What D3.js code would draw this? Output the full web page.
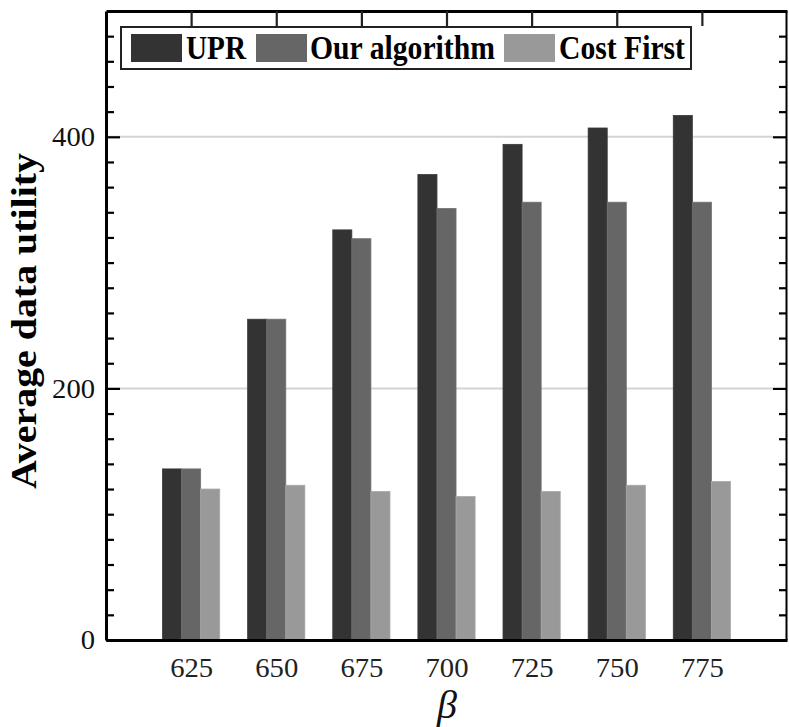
<!DOCTYPE html>
<html>
<head>
<meta charset="utf-8">
<script src="https://cdn.jsdelivr.net/npm/d3@7"></script>
<style>
  html, body { margin: 0; padding: 0; background: #fff; }
  svg { display: block; }
  svg text { font-family: "Liberation Serif", "Times New Roman", Times, serif; }
</style>
</head>
<body>
<svg id="chart" width="789" height="727"></svg>
<script>
// ---------- data ----------
const categories = [625, 650, 675, 700, 725, 750, 775];
const seriesNames = ["UPR", "Our algorithm", "Cost First"];
const uprValues = [136, 255, 326, 370, 394, 407, 417];
const ourValues = [136, 255, 319, 343, 348, 348, 348];
const costFirstValues = [120, 123, 118, 114, 118, 123, 126];
const yMajorTicks = [0, 200, 400];
const yMinorStep = 20;
const xLabel = "β";
const yLabel = "Average data utility";

(function () {
// ---------- setup ----------
const W = 789, H = 727;
const pLeft = 106, pRight = 786, pTop = 11, pBottom = 640;
const colors = {"UPR": "#333333", "Our algorithm": "#666666", "Cost First": "#999999"};
const serif = "\"Liberation Serif\", \"Times New Roman\", Times, serif";

const svg = d3.select("#chart");
svg.append("rect").attr("width", W).attr("height", H).attr("fill", "#fff");

const x = d3.scaleLinear().domain([600, 800]).range([pLeft, pRight + 1]);
const y = d3.scaleLinear().domain([0, 500]).range([pBottom, pTop]);
const sub = d3.scaleBand().domain(seriesNames).range([-8.4, 8.4]);

const seriesData = seriesNames.map((name, i) => ({
  name,
  values: [uprValues, ourValues, costFirstValues][i]
}));

// gridlines
svg.append("g").selectAll("line")
  .data(yMajorTicks.filter(d => d > 0))
  .join("line")
  .attr("x1", pLeft).attr("x2", pRight - 13)
  .attr("y1", d => y(d)).attr("y2", d => y(d))
  .attr("stroke", "#d4d4d4").attr("stroke-width", 2);

// bars
const gBars = svg.append("g");
seriesData.forEach(s => {
  gBars.append("g").selectAll("rect")
    .data(s.values.map((v, i) => ({c: categories[i], v})))
    .join("rect")
    .attr("x", d => x(d.c + sub(s.name)))
    .attr("width", d => x(d.c + sub(s.name) + sub.bandwidth()) - x(d.c + sub(s.name)))
    .attr("y", d => y(d.v))
    .attr("height", d => y(0) - y(d.v))
    .attr("fill", colors[s.name])
    .attr("stroke", d3.color(colors[s.name]).brighter(0.25))
    .attr("stroke-width", 0.8);
});

const minorTicks = d3.range(0, 500, yMinorStep);
const isMajor = d => yMajorTicks.includes(d);

// left axis
const gLeft = svg.append("g").attr("transform", `translate(${pLeft},0)`)
  .call(d3.axisLeft(y).tickValues(minorTicks).tickSizeInner(-8).tickSizeOuter(0)
    .tickPadding(11).tickFormat(d => isMajor(d) ? d : ""));
gLeft.attr("font-family", null);
gLeft.selectAll(".tick line").attr("x2", d => isMajor(d) ? 14 : 8).attr("stroke-width", 2.2).attr("stroke", "#000");
gLeft.select(".domain").attr("stroke-width", 3).attr("stroke", "#000");
gLeft.selectAll(".tick text").style("font-family", serif).attr("font-size", 27).attr("fill", "#111")
  .filter(d => isMajor(d))
  .attr("textLength", d => String(d).length * 14.3).attr("lengthAdjust", "spacingAndGlyphs");

// right axis
const gRight = svg.append("g").attr("transform", `translate(${pRight},0)`)
  .call(d3.axisRight(y).tickValues(minorTicks).tickSizeInner(-7).tickSizeOuter(0).tickFormat(""));
gRight.selectAll(".tick line").attr("x2", d => isMajor(d) ? -13 : -7).attr("stroke-width", 2.2).attr("stroke", "#000");
gRight.select(".domain").attr("stroke-width", 2).attr("stroke", "#000");

// top axis
const gTop = svg.append("g").attr("transform", `translate(0,${pTop})`)
  .call(d3.axisTop(x).tickValues(categories).tickSizeInner(-15).tickSizeOuter(0).tickFormat(""));
gTop.selectAll(".tick line").attr("stroke-width", 2.2).attr("stroke", "#222");
gTop.select(".domain").attr("stroke-width", 3).attr("stroke", "#000");

// bottom axis
const gBottom = svg.append("g").attr("transform", `translate(0,${pBottom})`)
  .call(d3.axisBottom(x).tickValues(categories).tickSize(0).tickSizeOuter(0).tickPadding(18));
gBottom.attr("font-family", null);
gBottom.select(".domain").attr("stroke-width", 3).attr("stroke", "#000");
gBottom.selectAll(".tick text").style("font-family", serif).attr("font-size", 27).attr("fill", "#222")
  .attr("textLength", 43).attr("lengthAdjust", "spacingAndGlyphs");

// axis titles
svg.append("text")
  .attr("transform", `translate(36,321) rotate(-90)`)
  .attr("text-anchor", "middle")
  .style("font-family", serif).attr("font-weight", "bold").attr("font-size", 36)
  .attr("textLength", 336).attr("lengthAdjust", "spacingAndGlyphs")
  .attr("fill", "#000")
  .text(yLabel);

svg.append("text")
  .attr("x", 447).attr("y", 718)
  .attr("text-anchor", "middle")
  .style("font-family", serif).attr("font-style", "italic").attr("font-size", 40)
  .attr("fill", "#111")
  .text(xLabel);

// legend
const legendItems = [
  {name: "UPR", sx: 131, tx: 186, tw: 60},
  {name: "Our algorithm", sx: 256, tx: 310, tw: 185},
  {name: "Cost First", sx: 504, tx: 559, tw: 126}
];
const gLeg = svg.append("g");
gLeg.append("rect").attr("x", 121).attr("y", 27).attr("width", 570).attr("height", 42)
  .attr("fill", "#fff").attr("stroke", "#222").attr("stroke-width", 2);
gLeg.selectAll("rect.sw").data(legendItems).join("rect").attr("class", "sw")
  .attr("x", d => d.sx).attr("y", 34).attr("width", 51).attr("height", 28)
  .attr("fill", d => colors[d.name]);
gLeg.selectAll("text").data(legendItems).join("text")
  .attr("x", d => d.tx).attr("y", 59)
  .style("font-family", serif).attr("font-weight", "bold").attr("font-size", 33)
  .attr("textLength", d => d.tw).attr("lengthAdjust", "spacingAndGlyphs")
  .attr("fill", "#000")
  .text(d => d.name);
})();
</script>
</body>
</html>
